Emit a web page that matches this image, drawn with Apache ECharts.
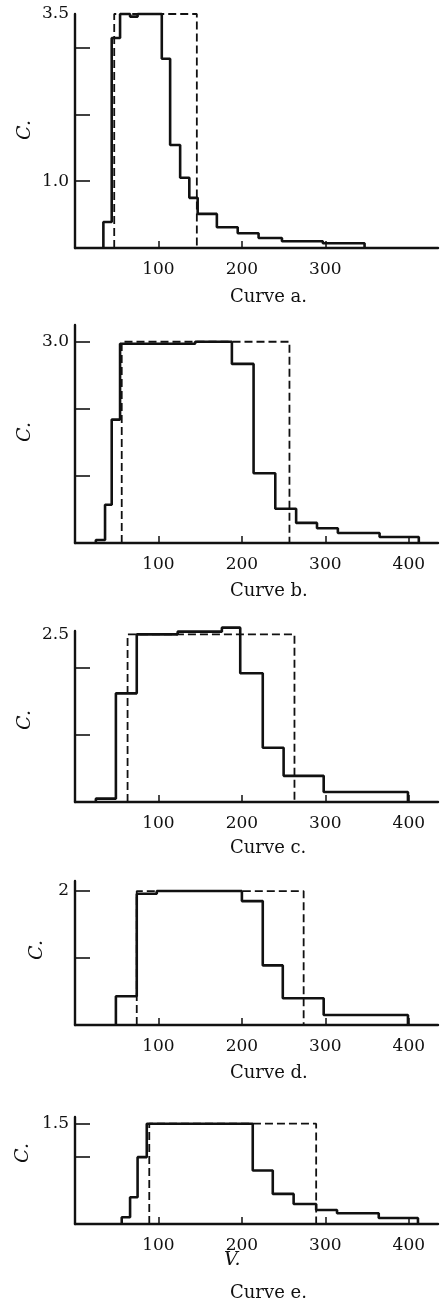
<!DOCTYPE html>
<html>
<head>
<meta charset="utf-8">
<script src="https://cdn.jsdelivr.net/npm/echarts@6/dist/echarts.min.js"></script>
<style>
  html, body { margin: 0; background: #fff; }
  #chart { width: 440px; height: 1305px; }
</style>
</head>
<body>
<div id="chart"></div>
<script>
// step edges (V) and heights (C) of each measured histogram
const edgesA = [34, 44, 54, 66, 75, 104, 114, 126, 137, 147, 170, 195, 220, 248, 297, 347]
const heightsA = [0.39, 3.14, 3.5, 3.46, 3.5, 2.83, 1.54, 1.05, 0.75, 0.51, 0.31, 0.22, 0.15, 0.10, 0.07]
const edgesB = [25, 36, 44, 54, 144, 188, 214, 240, 265, 290, 315, 365, 412]
const heightsB = [0.045, 0.57, 1.84, 2.97, 3.0, 2.67, 1.04, 0.51, 0.30, 0.22, 0.15, 0.09]
const edgesC = [25, 49, 74, 123, 176, 198, 225, 250, 298, 399]
const heightsC = [0.05, 1.62, 2.5, 2.54, 2.6, 1.92, 0.81, 0.39, 0.15]
const edgesD = [49, 74, 98, 200, 225, 249, 298, 399]
const heightsD = [0.43, 1.96, 2.0, 1.85, 0.89, 0.40, 0.15]
const edgesE = [56, 66, 75, 86, 213, 237, 262, 289, 314, 364, 411]
const heightsE = [0.10, 0.40, 1.0, 1.5, 0.80, 0.45, 0.30, 0.21, 0.16, 0.09]

// dashed rectangles: [from, to, level]
const dashA = [47, 146, 3.5]
const dashB = [56, 257, 3.0]
const dashC = [63, 263, 2.5]
const dashD = [74, 274, 2.0]
const dashE = [89, 289, 1.5]

const curveNames = ['Curve a.', 'Curve b.', 'Curve c.', 'Curve d.', 'Curve e.']
const xTicksA = [100, 200, 300]
const xTicks = [100, 200, 300, 400]
const yLabelVals = [[1, 3.5], [3], [2.5], [2], [1.5]]
const yLabelDigits = [1, 1, 1, 0, 1]
const yTickVals = [[1, 2, 3], [1, 2, 3], [1, 2], [1, 2], [1, 1.5]]

const edges = [edgesA, edgesB, edgesC, edgesD, edgesE]
const heights = [heightsA, heightsB, heightsC, heightsD, heightsE]
const dashes = [dashA, dashB, dashC, dashD, dashE]

// layout
const gridTops = [14, 325, 631, 881, 1117]
const gridHeights = [234, 218, 171, 144, 107]
const yMax = [3.5, 3.25, 2.55, 2.15, 1.6]
const yNamePos = [[25, 130], [25, 432], [25, 720], [37, 950], [23, 1153]]
const captionY = [299, 593, 850, 1075, 1295]

const font = 'DejaVu Serif'
const ink = '#111'

function stepPoints(e, h) {
  const pts = [[e[0], 0]]
  for (let i = 0; i < h.length; i++) {
    pts.push([e[i], h[i]], [e[i + 1], h[i]])
  }
  pts.push([e[e.length - 1], 0])
  return pts
}

function boxPoints(d) {
  return [[d[0], 0], [d[0], d[2]], [d[1], d[2]], [d[1], 0]]
}

const chart = echarts.init(document.getElementById('chart'))

const grid = [], xAxis = [], yAxis = [], series = [], graphic = []

for (let i = 0; i < 5; i++) {
  const xt = i === 0 ? xTicksA : xTicks
  grid.push({ left: 75, width: 363, top: gridTops[i], height: gridHeights[i] })
  xAxis.push({
    gridIndex: i, type: 'value', min: 0, max: 435,
    axisLine: { show: true, lineStyle: { color: ink, width: 2.4 } },
    axisTick: { inside: true, length: 7, customValues: xt, lineStyle: { color: ink, width: 1.5 } },
    axisLabel: { customValues: xt, margin: 13, fontFamily: font, fontSize: 17, color: ink },
    splitLine: { show: false }
  })
  const digits = yLabelDigits[i]
  yAxis.push({
    gridIndex: i, type: 'value', min: 0, max: yMax[i],
    axisLine: { show: true, lineStyle: { color: ink, width: 2.4 } },
    axisTick: { inside: true, length: 15, customValues: yTickVals[i], lineStyle: { color: ink, width: 1.6 } },
    axisLabel: {
      customValues: yLabelVals[i], margin: 6, fontFamily: font, fontSize: 17, color: ink,
      formatter: v => v.toFixed(digits)
    },
    splitLine: { show: false }
  })
  series.push({
    type: 'line', xAxisIndex: i, yAxisIndex: i,
    data: stepPoints(edges[i], heights[i]),
    showSymbol: false, silent: true, clip: false,
    lineStyle: { color: ink, width: 2.6 }
  })
  series.push({
    type: 'line', xAxisIndex: i, yAxisIndex: i,
    data: boxPoints(dashes[i]),
    showSymbol: false, silent: true, clip: false,
    lineStyle: { color: ink, width: 1.8, type: [8, 4] }
  })
  graphic.push({
    type: 'text', left: 230, top: captionY[i] - 11,
    style: { text: curveNames[i], fontFamily: font, fontSize: 18, fill: ink, textAlign: 'center' }
  })
  graphic.push({
    type: 'text', x: yNamePos[i][0], y: yNamePos[i][1], rotation: Math.PI / 2,
    style: {
      text: 'C.', fontFamily: font, fontStyle: 'italic', fontSize: 19, fill: ink,
      align: 'center', verticalAlign: 'middle'
    }
  })
}

graphic.push({
  type: 'text', left: 224, top: 1251,
  style: { text: 'V.', fontFamily: font, fontStyle: 'italic', fontSize: 19, fill: ink }
})

chart.setOption({
  animation: false,
  backgroundColor: '#fff',
  grid, xAxis, yAxis, series, graphic
})
</script>
</body>
</html>
